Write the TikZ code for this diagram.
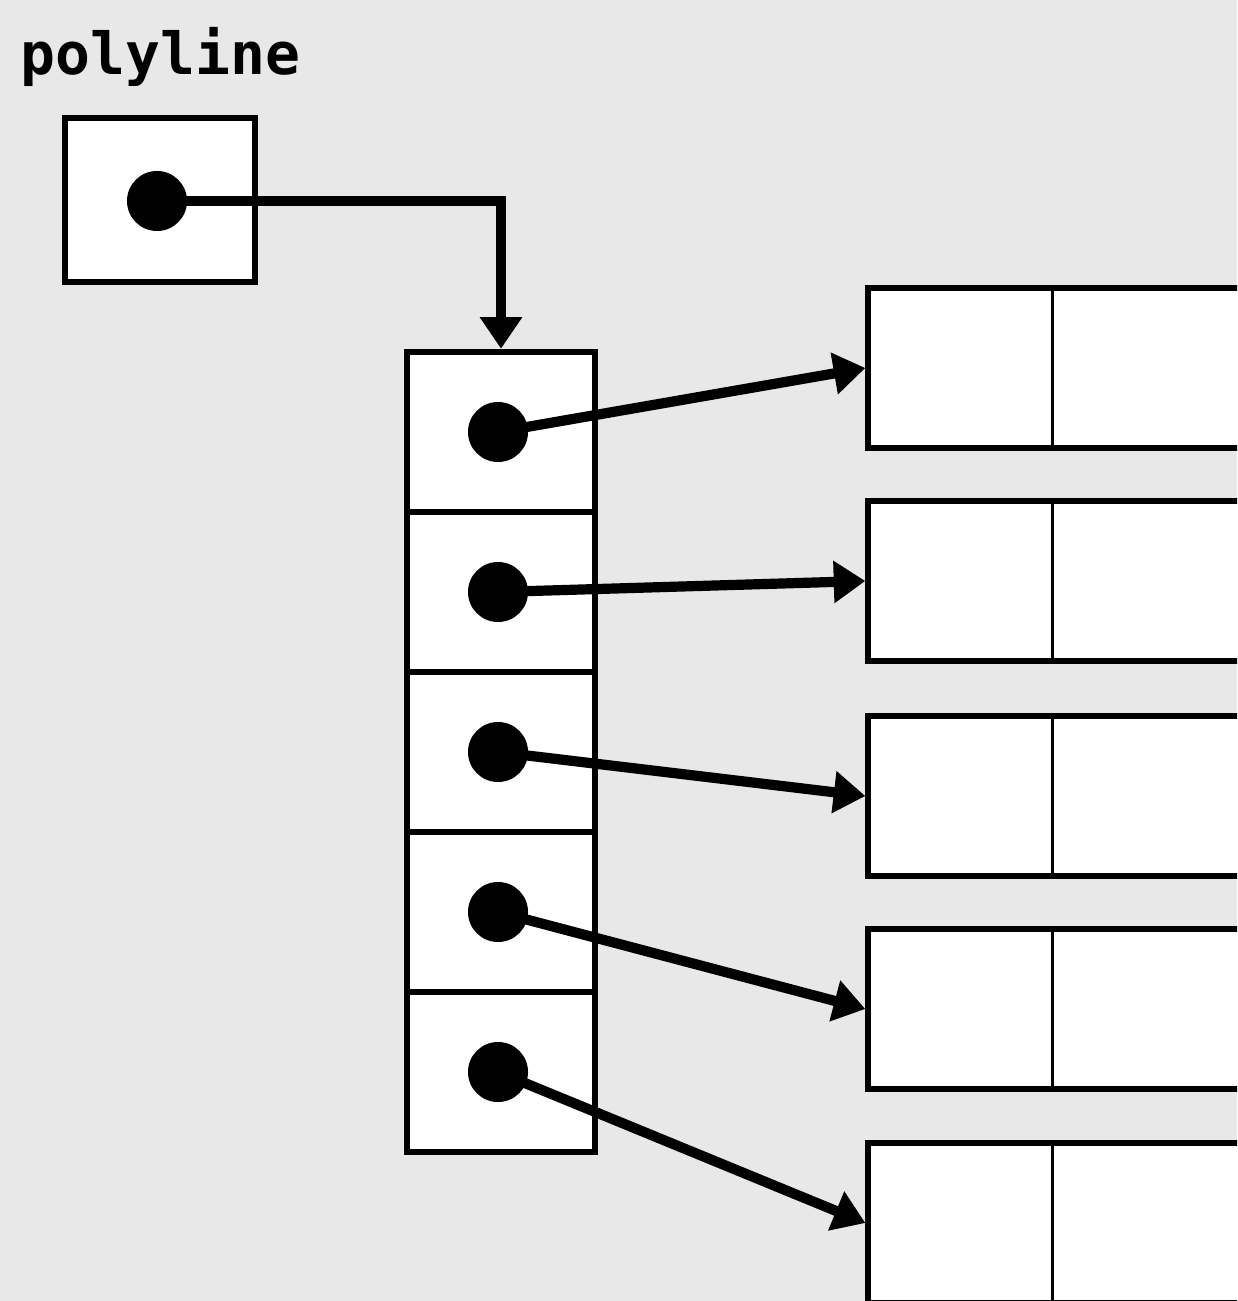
\documentclass[tikz,border=0pt]{standalone}
\usepackage{fontspec}
\newfontfamily\codefont{DejaVu Sans Mono}
\usetikzlibrary{arrows.meta}
\definecolor{paper}{RGB}{232,232,232}

\begin{document}
\begin{tikzpicture}[x=0.01cm, y=-0.01cm,
    cellbox/.style={draw, fill=white, line width=1.8pt, minimum width=1.88cm, minimum height=1.6cm, inner sep=0pt},
    recbox/.style={draw, fill=white, line width=1.7pt, minimum width=4.21cm, minimum height=1.6cm, inner sep=0pt},
    ptrdot/.style={circle, fill=black, minimum size=0.6cm, inner sep=0pt},
    ptrline/.style={line width=2.9pt, -{Triangle[length=9pt, width=11.5pt]}},
    divider/.style={line width=0.8pt}]

% Page and background
\fill[paper] (0,0) rectangle (1237,1301);
\useasboundingbox (0,0) rectangle (1237,1301);
\clip (0,0) rectangle (1237,1301);

% --- Variable polyline ---
\node[anchor=base west, inner sep=0pt, font=\codefont\bfseries\fontsize{16.5}{20}\selectfont] (name) at (20,75) {polyline};
\node[cellbox, line width=1.6pt, minimum width=1.9cm, minimum height=1.64cm] (var) at (160,200) {};
\node[ptrdot] (d0) at (157,201) {};

% --- Array of pointers ---
\foreach \i/\y in {1/432, 2/592, 3/752, 4/912, 5/1072} {
    \node[cellbox] (cell\i) at (501,\y) {};
    \node[ptrdot] (d\i) at (498,\y) {};
}

% --- Point records ---
\foreach \i/\y in {1/368, 2/581, 3/796, 4/1009, 5/1223} {
    \node[recbox] (rec\i) at (1079,\y) {};
    \draw[divider] (rec\i.north west) ++(187,0) -- ++(0,160);
}

% --- Connectors ---
\draw[ptrline] (d0.center) -| (cell1.north);
\foreach \i in {1,...,5} {
    \draw[ptrline] (d\i.center) -- (rec\i.west);
}

\end{tikzpicture}
\end{document}
